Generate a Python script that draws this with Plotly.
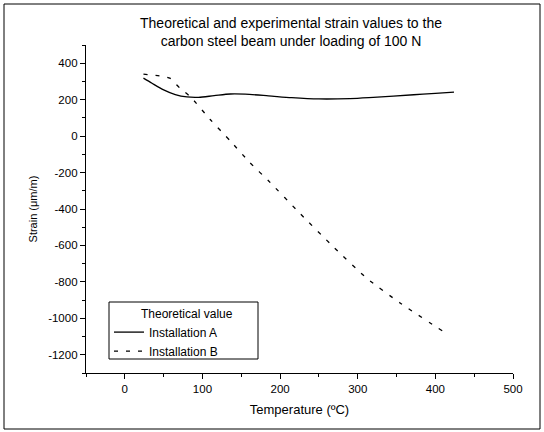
import plotly.graph_objects as go

title_text = "Theoretical and experimental strain values to the<br>carbon steel beam under loading of 100 N"
x_label = "Temperature (ºC)"
y_label = "Strain (μm/m)"
legend_title = "Theoretical value"

a_name = "Installation A"
a_temp = [24, 35, 50, 65, 80, 95, 115, 136, 155, 185, 215, 250, 290, 320, 372, 400, 424]
a_strain = [318, 290, 254, 228, 215, 213, 222, 231, 230, 221, 211, 204, 206, 213, 227, 234, 241]

b_name = "Installation B"
b_temp = [24, 45, 58, 71, 84, 110, 136, 161, 185, 226, 269, 312, 355, 413]
b_strain = [340, 330, 318, 263, 218, 91, -27, -145, -245, -426, -609, -781, -917, -1080]

x_ticks = [0, 100, 200, 300, 400, 500]
y_ticks = [400, 200, 0, -200, -400, -600, -800, -1000, -1200]
y_tick_text = ["400", "200", "0", "-200", "-400", "-600", "-800", "-1000", "-1200"]

FONT = "Liberation Sans, Arial, sans-serif"

fig = go.Figure()
fig.add_trace(go.Scatter(x=a_temp, y=a_strain, name=a_name, mode="lines",
                         line=dict(color="black", width=1.3, shape="spline", smoothing=0.8)))
fig.add_trace(go.Scatter(x=b_temp, y=b_strain, name=b_name, mode="lines",
                         line=dict(color="black", width=1.3, dash="4px,8px", shape="spline", smoothing=0.6)))

L, R, T, B = 86, 31, 45, 59
W, H = 544, 432
pw, ph = W - L - R, H - T - B

def px2paper(px, py):
    return (px - L) / pw, (H - B - py) / ph

shapes = []
x0, y0 = px2paper(4, 429)
x1, y1 = px2paper(540, 4)
shapes.append(dict(type="rect", xref="paper", yref="paper", x0=x0, y0=y0, x1=x1, y1=y1,
                   line=dict(color="black", width=1), fillcolor="rgba(0,0,0,0)", layer="below"))
lx0, ly0 = px2paper(109, 359)
lx1, ly1 = px2paper(258, 302)
shapes.append(dict(type="rect", xref="paper", yref="paper", x0=lx0, y0=ly0, x1=lx1, y1=ly1,
                   line=dict(color="black", width=1), fillcolor="white", layer="below"))

axis_common = dict(showline=True, linecolor="black", linewidth=1.3, ticks="outside",
                   ticklen=5, tickwidth=1.2, tickcolor="black", showgrid=False, zeroline=False,
                   tickfont=dict(family=FONT, size=11.5, color="black"),
                   minor=dict(ticks="outside", ticklen=3, tickwidth=1, tickcolor="black"))

fig.update_layout(
    width=W, height=H,
    margin=dict(l=L, r=R, t=T, b=B),
    paper_bgcolor="white", plot_bgcolor="white",
    font=dict(family=FONT, size=11, color="black"),
    title=dict(text=title_text, x=291 / W, xanchor="center",
               y=1 - 28 / H, yanchor="middle",
               font=dict(family=FONT, size=14, color="black")),
    xaxis=dict(range=[-50, 500], tickvals=x_ticks,
               title=dict(text=x_label, font=dict(family=FONT, size=13, color="black"), standoff=10),
               **axis_common),
    yaxis=dict(range=[-1300, 500], tickvals=y_ticks, ticktext=y_tick_text,
               title=dict(text=y_label, font=dict(family=FONT, size=11, color="black"), standoff=8),
               **axis_common),
    showlegend=True,
    legend=dict(x=lx0, y=ly1, xanchor="left", yanchor="top",
                bgcolor="rgba(0,0,0,0)", borderwidth=0,
                title=dict(text="\u00a0" * 9 + legend_title, side="top", font=dict(family=FONT, size=12)),
                font=dict(family=FONT, size=12, color="black"),
                tracegroupgap=0, itemwidth=30),
    shapes=shapes,
)
fig.update_xaxes(minor_dtick=50)
fig.update_yaxes(minor_dtick=100)

fig.write_html("out.html")
